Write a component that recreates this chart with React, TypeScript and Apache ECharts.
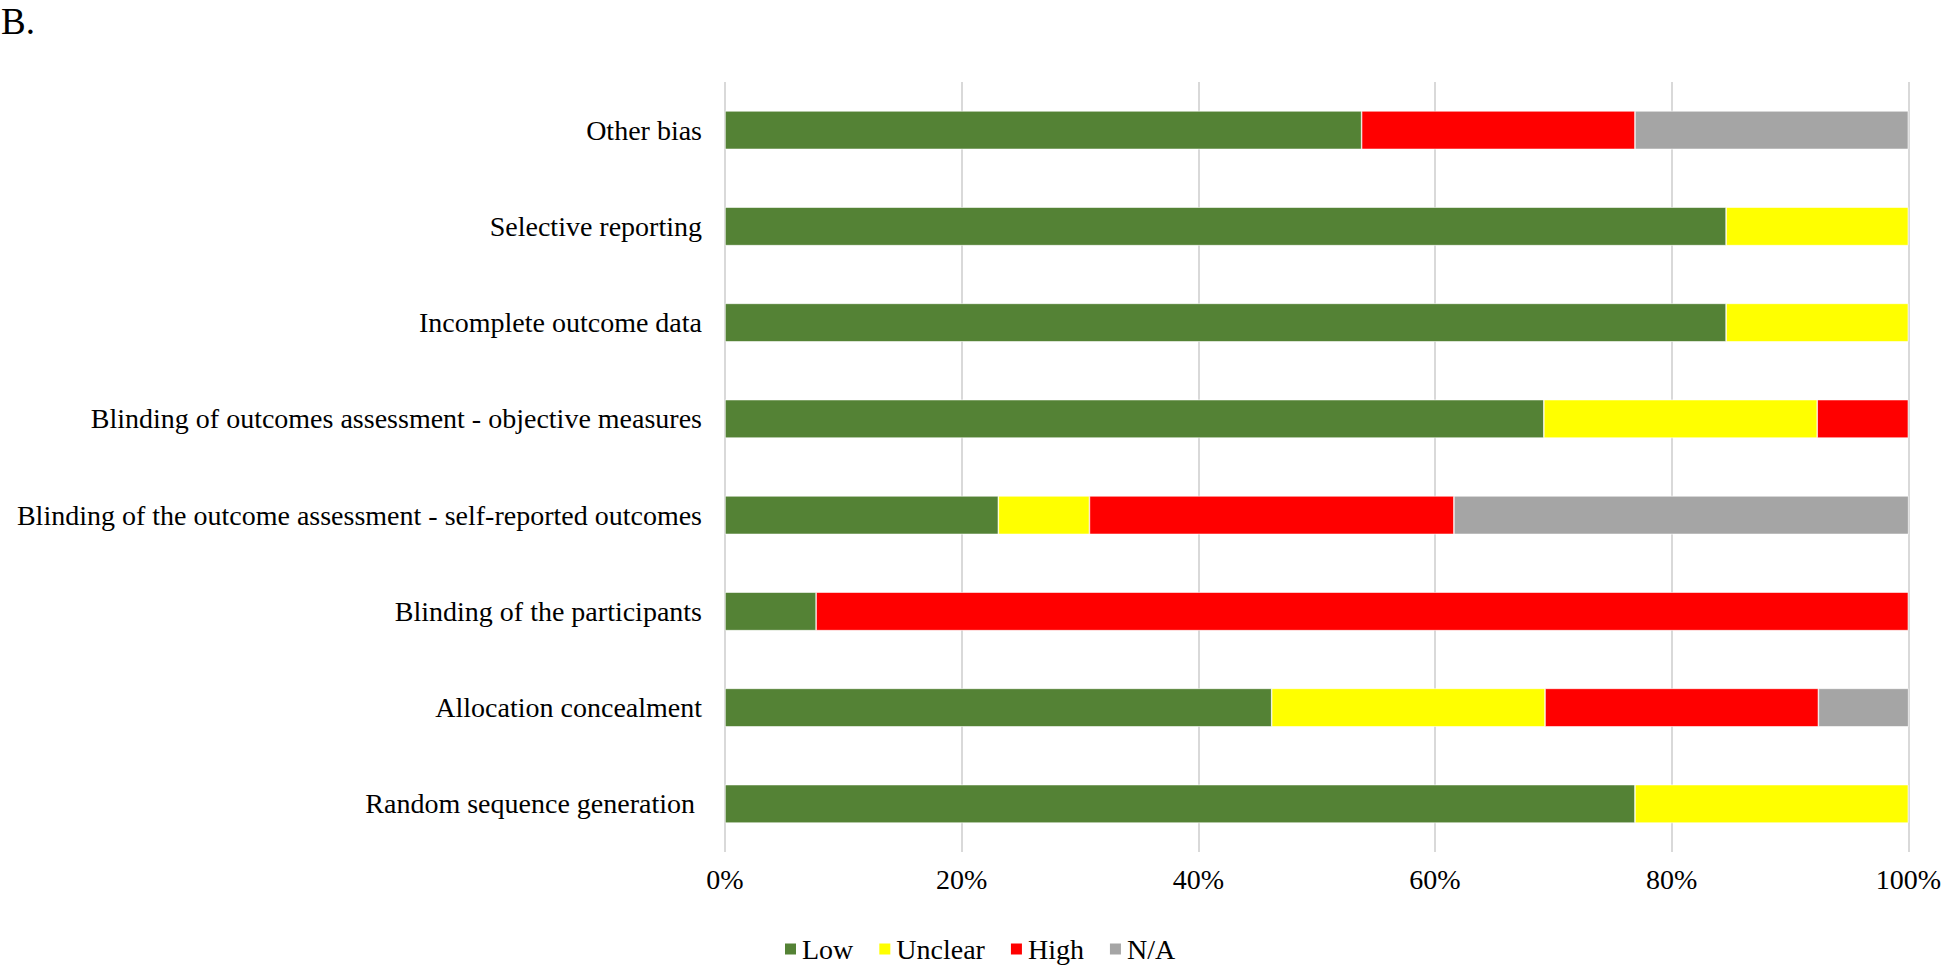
import React, { useEffect, useRef } from "react";
import * as echarts from "echarts";

const categories = [
  "Random sequence generation ",
  "Allocation concealment",
  "Blinding of the participants",
  "Blinding of the outcome assessment - self-reported outcomes",
  "Blinding of outcomes assessment - objective measures",
  "Incomplete outcome data",
  "Selective reporting",
  "Other bias",
];

const lowValues = [76.9, 46.2, 7.7, 23.1, 69.2, 84.6, 84.6, 53.8];
const unclearValues = [23.1, 23.1, 0, 7.7, 23.1, 15.4, 15.4, 0];
const highValues = [0, 23.1, 92.3, 30.8, 7.7, 0, 0, 23.1];
const naValues = [0, 7.7, 0, 38.5, 0, 0, 0, 23.1];

const seriesNames = ["Low", "Unclear", "High", "N/A"];
const seriesColors = ["#548235", "#FFFF00", "#FF0000", "#A5A5A5"];
const xTicks = [0, 20, 40, 60, 80, 100];

const FONT = "'Liberation Serif', 'Times New Roman', serif";

export default function App() {
  const ref = useRef<HTMLDivElement>(null);

  useEffect(() => {
    if (!ref.current) return;
    const chart = echarts.init(ref.current, null, { renderer: "svg" });
    const allValues = [lowValues, unclearValues, highValues, naValues];
    chart.setOption({
      animation: false,
      backgroundColor: "#ffffff",
      textStyle: { fontFamily: FONT, color: "#000" },
      graphic: [
        {
          type: "text",
          x: 1,
          y: 0,
          style: {
            text: "B.",
            fontSize: 37,
            fontFamily: FONT,
            fill: "#000",
            verticalAlign: "top",
            lineHeight: 42,
          },
        },
      ],
      legend: {
        left: 783,
        top: 934,
        icon: "rect",
        itemWidth: 13,
        itemHeight: 13,
        itemGap: 24,
        padding: 0,
        data: seriesNames,
        textStyle: {
          fontSize: 28,
          lineHeight: 30,
          fontFamily: FONT,
          color: "#000",
        },
      },
      grid: {
        left: 725,
        right: 33,
        top: 82,
        bottom: 116,
        containLabel: false,
      },
      xAxis: {
        type: "value",
        min: xTicks[0],
        max: xTicks[xTicks.length - 1],
        interval: 20,
        axisLine: { show: false },
        axisTick: { show: false },
        splitLine: { show: true, lineStyle: { color: "#D9D9D9", width: 2 } },
        axisLabel: {
          formatter: "{value}%",
          fontSize: 28,
          fontFamily: FONT,
          color: "#000",
          margin: 13,
        },
      },
      yAxis: {
        type: "category",
        data: categories,
        axisLine: { show: false },
        axisTick: { show: false },
        splitLine: { show: false },
        axisLabel: {
          fontSize: 28,
          fontFamily: FONT,
          color: "#000",
          margin: 23,
        },
      },
      series: seriesNames.map((name, i) => ({
        name,
        type: "bar",
        stack: "total",
        barCategoryGap: "60%",
        itemStyle: {
          color: seriesColors[i],
          borderColor: "#ffffff",
          borderWidth: 0.6,
        },
        emphasis: { disabled: true },
        data: allValues[i].map((v) => (v === 0 ? "-" : v)),
      })),
    });
    return () => chart.dispose();
  }, []);

  return (
    <div
      ref={ref}
      style={{ position: "fixed", left: 0, top: 0, width: 1944, height: 968 }}
    />
  );
}
